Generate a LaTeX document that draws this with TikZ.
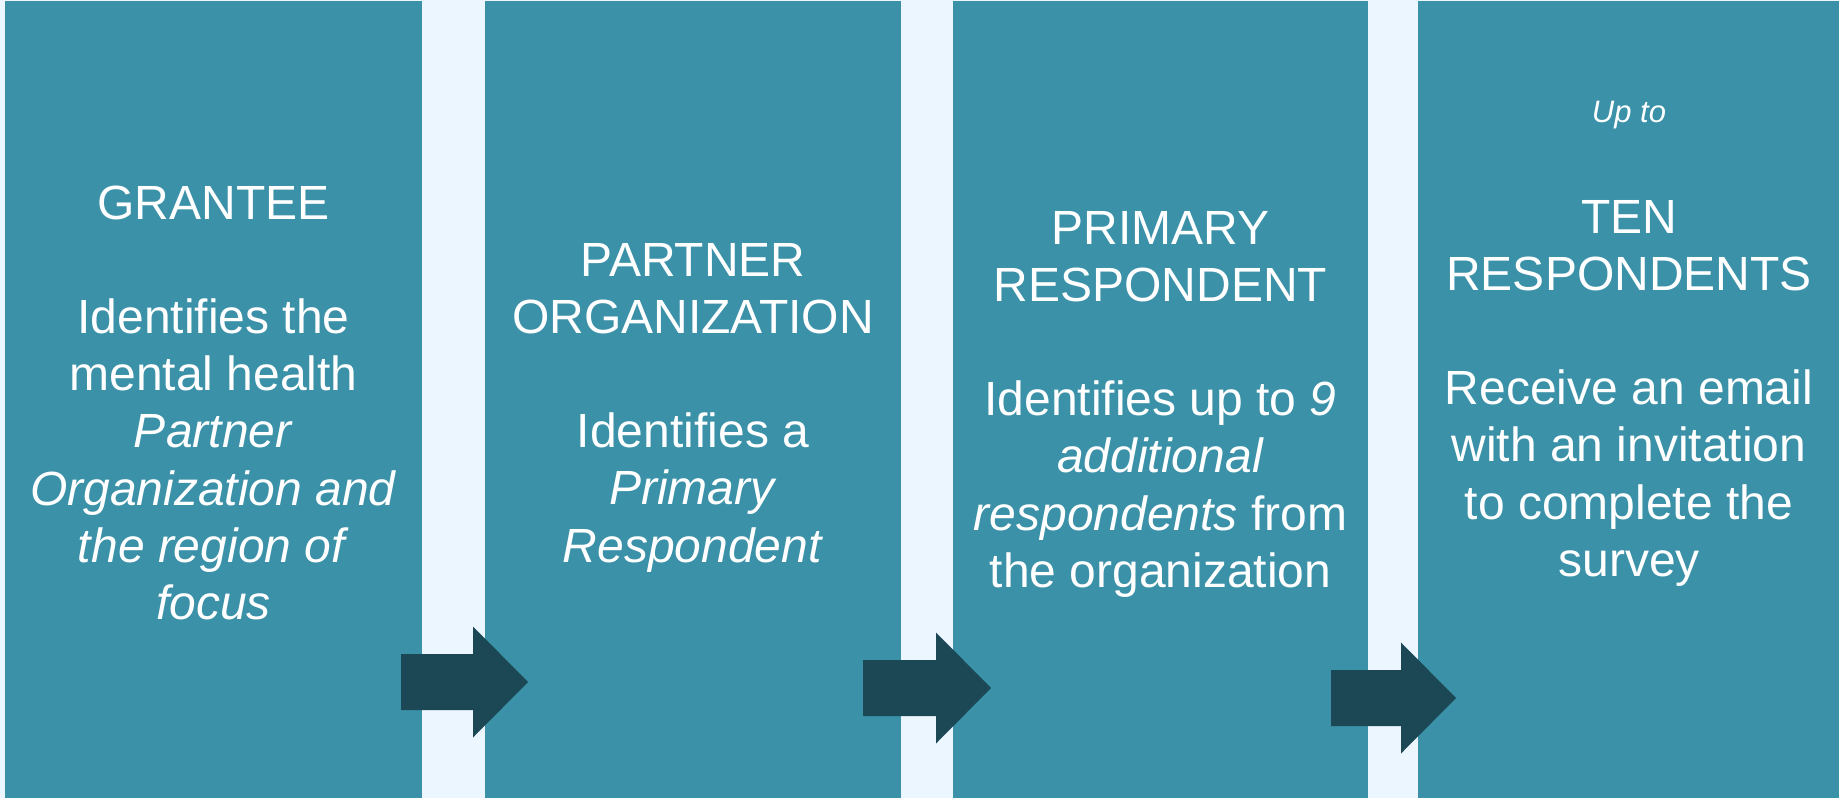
\documentclass[tikz,border=0pt]{standalone}
\usepackage{fontspec}
\setmainfont{Liberation Sans}
\definecolor{bgc}{RGB}{235,246,254}
\definecolor{boxc}{RGB}{58,145,168}
\definecolor{arrc}{RGB}{28,72,85}
\newcommand\blkarrow[2]{\fill[arrowfill] (#1) -- ++(0,-28) -- ++(#2,0) -- ++(0,-27.5) -- ++(55,55.5) -- ++(-55,55.5) -- ++(0,-27.5) -- ++(-#2,0) -- cycle;}
\begin{document}
\begin{tikzpicture}[x=1pt,y=-1pt,
  panel/.style={fill=boxc, draw=none, inner sep=0, anchor=north west, minimum height=797pt},
  txt/.style={text=white, inner sep=0, anchor=base, font=\fontsize{48}{57.2}\selectfont},
  uptxt/.style={text=white, inner sep=0, anchor=base, font=\fontsize{31}{37}\selectfont\itshape},
  arrowfill/.style={fill=arrc}]
\fill[bgc] (0,0) rectangle (1839,798);
\useasboundingbox (0,0) rectangle (1839,798);
% panels
\node[panel, minimum width=417pt] (b1) at (5,1) {};
\node[panel, minimum width=416pt] (b2) at (485,1) {};
\node[panel, minimum width=415pt] (b3) at (953,1) {};
\node[panel, minimum width=421pt] (b4) at (1418,1) {};
% texts
\node[txt] (t1) at (213.5,219) {\begin{tabular}[t]{@{}c@{}}GRANTEE\\ \\ Identifies the\\ mental health\\ \textit{Partner}\\ \textit{Organization and}\\ \textit{the region of}\\ \textit{focus}\end{tabular}};
\node[txt] (t2) at (693,276) {\begin{tabular}[t]{@{}c@{}}PARTNER\\ ORGANIZATION\\ \\ Identifies a\\ \textit{Primary}\\ \textit{Respondent}\end{tabular}};
\node[txt] (t3) at (1160.5,244) {\begin{tabular}[t]{@{}c@{}}PRIMARY\\ RESPONDENT\\ \\ Identifies up to \textit{9}\\ \textit{additional}\\ \textit{respondents} from\\ the organization\end{tabular}};
\node[uptxt] (up) at (1629,122) {Up to};
\node[txt] (t4) at (1629,233) {\begin{tabular}[t]{@{}c@{}}TEN\\ RESPONDENTS\\ \\ Receive an email\\ with an invitation\\ to complete the\\ survey\end{tabular}};
% arrows
\coordinate (a1) at (401,682);
\coordinate (a2) at (863,688);
\coordinate (a3) at (1331,698);
\blkarrow{a1}{72}
\blkarrow{a2}{73}
\blkarrow{a3}{70}
\end{tikzpicture}
\end{document}
